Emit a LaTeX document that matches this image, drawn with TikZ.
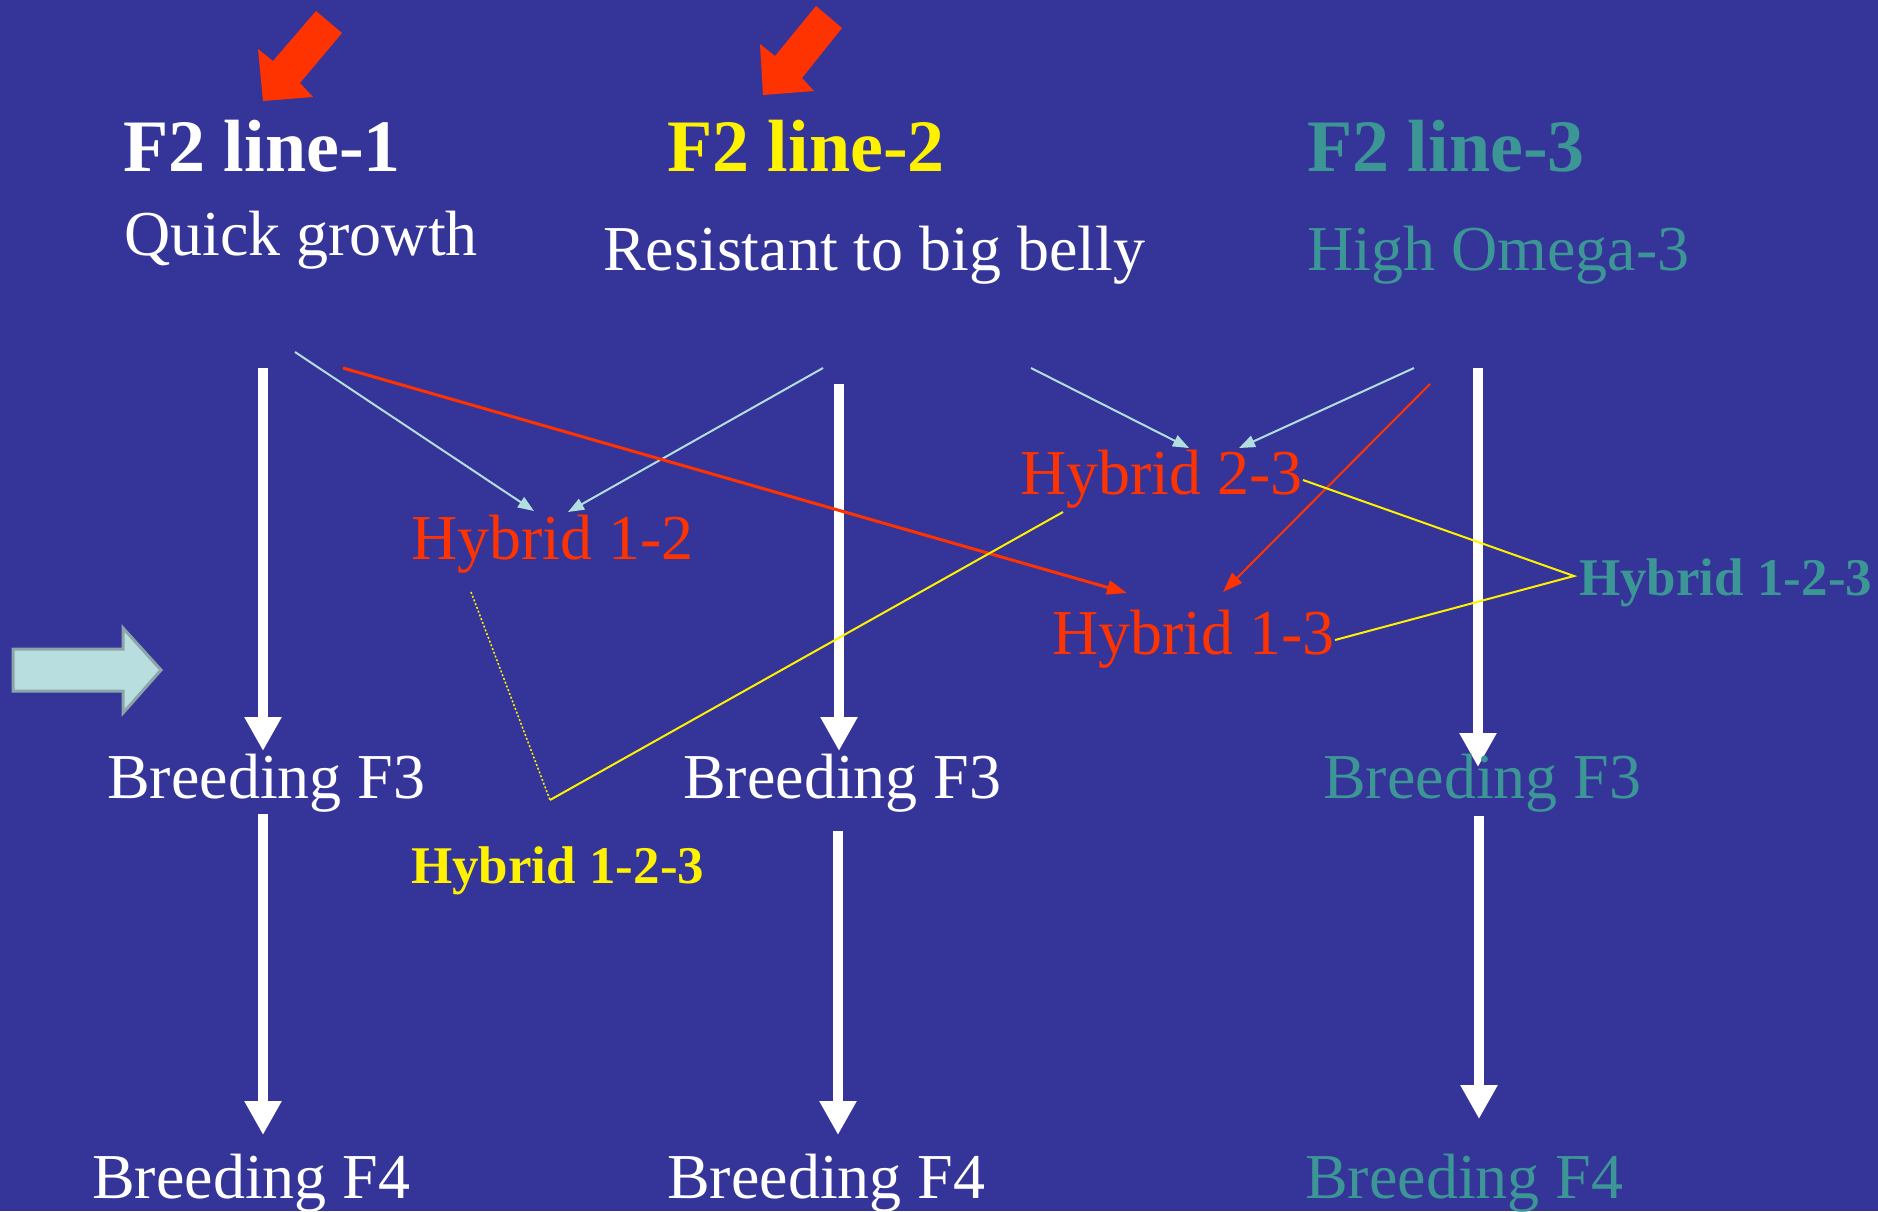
\documentclass[tikz,border=0pt]{standalone}
\usepackage{fontspec}
\setmainfont{Liberation Serif}
\usetikzlibrary{arrows.meta}
\definecolor{bgblue}{RGB}{53,53,153}
\definecolor{redx}{RGB}{255,51,0}
\definecolor{tealx}{RGB}{60,150,150}
\definecolor{lightb}{RGB}{179,222,224}
\definecolor{cyanfill}{RGB}{184,222,224}
\definecolor{cyanedge}{RGB}{140,165,168}
\begin{document}
\begin{tikzpicture}[x=1pt,y=-1pt,
  txt/.style={inner sep=0pt, anchor=base west},
  headtxt/.style={txt, font=\fontsize{74}{80}\selectfont\bfseries},
  bigtxt/.style={txt, font=\fontsize{64}{70}\selectfont},
  smallbold/.style={txt, font=\fontsize{53}{60}\selectfont\bfseries},
  whitearrow/.style={draw=white, line width=10pt, -{Triangle[length=34pt,width=35pt]}},
  bluearrow/.style={draw=lightb, line width=2pt, -{Triangle[length=16pt,width=12pt]}},
  redarrow/.style={draw=redx, -{Triangle[length=20pt,width=14pt]}},
  yline/.style={draw=yellow, line width=2pt}]
\fill[bgblue] (0,0) rectangle (1878,1211);
\useasboundingbox (0,0) rectangle (1878,1211);
% red block arrows
\fill[redx] (316,11) -- (342,33) -- (300,83) -- (313,97) -- (263,101) -- (258,49) -- (273,61) -- cycle;
\fill[redx] (816,6) -- (842,28) -- (802,78) -- (814,91) -- (763,95) -- (760,44) -- (775,56) -- cycle;
% cyan block arrow
\draw[fill=cyanfill, draw=cyanedge, line width=3pt, line join=miter] (13,649) -- (123,649) -- (123,628) -- (161,670) -- (123,713) -- (123,691) -- (13,691) -- cycle;
% coordinates
\coordinate (c1a) at (263,368); \coordinate (c1b) at (263,751);
\coordinate (c2a) at (839,384); \coordinate (c2b) at (839,751);
\coordinate (c3a) at (1478,368); \coordinate (c3b) at (1478,767);
\coordinate (d1a) at (263,814); \coordinate (d1b) at (263,1135);
\coordinate (d2a) at (838,831); \coordinate (d2b) at (838,1135);
\coordinate (d3a) at (1479,816); \coordinate (d3b) at (1479,1119);
\coordinate (p1a) at (295,352); \coordinate (p1b) at (534,511);
\coordinate (p2a) at (823,368); \coordinate (p2b) at (568,512);
\coordinate (p3a) at (1031,368); \coordinate (p3b) at (1189,448);
\coordinate (p4a) at (1414,368); \coordinate (p4b) at (1239,448);
\coordinate (r1a) at (343,368); \coordinate (r1b) at (1127,593);
\coordinate (r2a) at (1430,384); \coordinate (r2b) at (1223,592);
\coordinate (y1a) at (1303,480); \coordinate (yv) at (1574,576); \coordinate (y1c) at (1335,640);
\coordinate (y2a) at (1063,512); \coordinate (yw) at (550,800); \coordinate (y3a) at (471,592);
% white column arrows
\draw[whitearrow] (c1a) -- (c1b);
\draw[whitearrow] (c2a) -- (c2b);
\draw[whitearrow] (c3a) -- (c3b);
\draw[whitearrow] (d1a) -- (d1b);
\draw[whitearrow] (d2a) -- (d2b);
\draw[whitearrow] (d3a) -- (d3b);
% thin connectors
\draw[bluearrow] (p1a) -- (p1b);
\draw[bluearrow] (p2a) -- (p2b);
\draw[bluearrow] (p3a) -- (p3b);
\draw[bluearrow] (p4a) -- (p4b);
\draw[redarrow, line width=3pt] (r1a) -- (r1b);
\draw[redarrow, line width=2pt] (r2a) -- (r2b);
\draw[yline] (y1a) -- (yv) -- (y1c);
\draw[yline] (y2a) -- (yw);
\draw[draw=yellow, line width=1.5pt, dash pattern=on 2pt off 2pt] (y3a) -- (yw);
% texts
\node[headtxt, white] (l1) at (123,171) {F2 line-1};
\node[headtxt, yellow] (l2) at (667,171) {F2 line-2};
\node[headtxt, tealx] (l3) at (1307,171) {F2 line-3};
\node[bigtxt, white] (t1) at (124,255) {Quick growth};
\node[bigtxt, white] (t2) at (603,270) {Resistant to big belly};
\node[bigtxt, tealx] (t3) at (1307,270) {High Omega-3};
\node[bigtxt, redx] (h12) at (411,559) {Hybrid 1-2};
\node[bigtxt, redx] (h23) at (1020,494) {Hybrid 2-3};
\node[bigtxt, redx] (h13) at (1052,654) {Hybrid 1-3};
\node[smallbold, tealx] (h123r) at (1579,595) {Hybrid 1-2-3};
\node[smallbold, yellow] (h123l) at (411,883) {Hybrid 1-2-3};
\node[bigtxt, white] (b31) at (107,798) {Breeding F3};
\node[bigtxt, white] (b32) at (683,798) {Breeding F3};
\node[bigtxt, tealx] (b33) at (1323,798) {Breeding F3};
\node[bigtxt, white] (b41) at (92,1198) {Breeding F4};
\node[bigtxt, white] (b42) at (667,1198) {Breeding F4};
\node[bigtxt, tealx] (b43) at (1305,1198) {Breeding F4};
\end{tikzpicture}
\end{document}
